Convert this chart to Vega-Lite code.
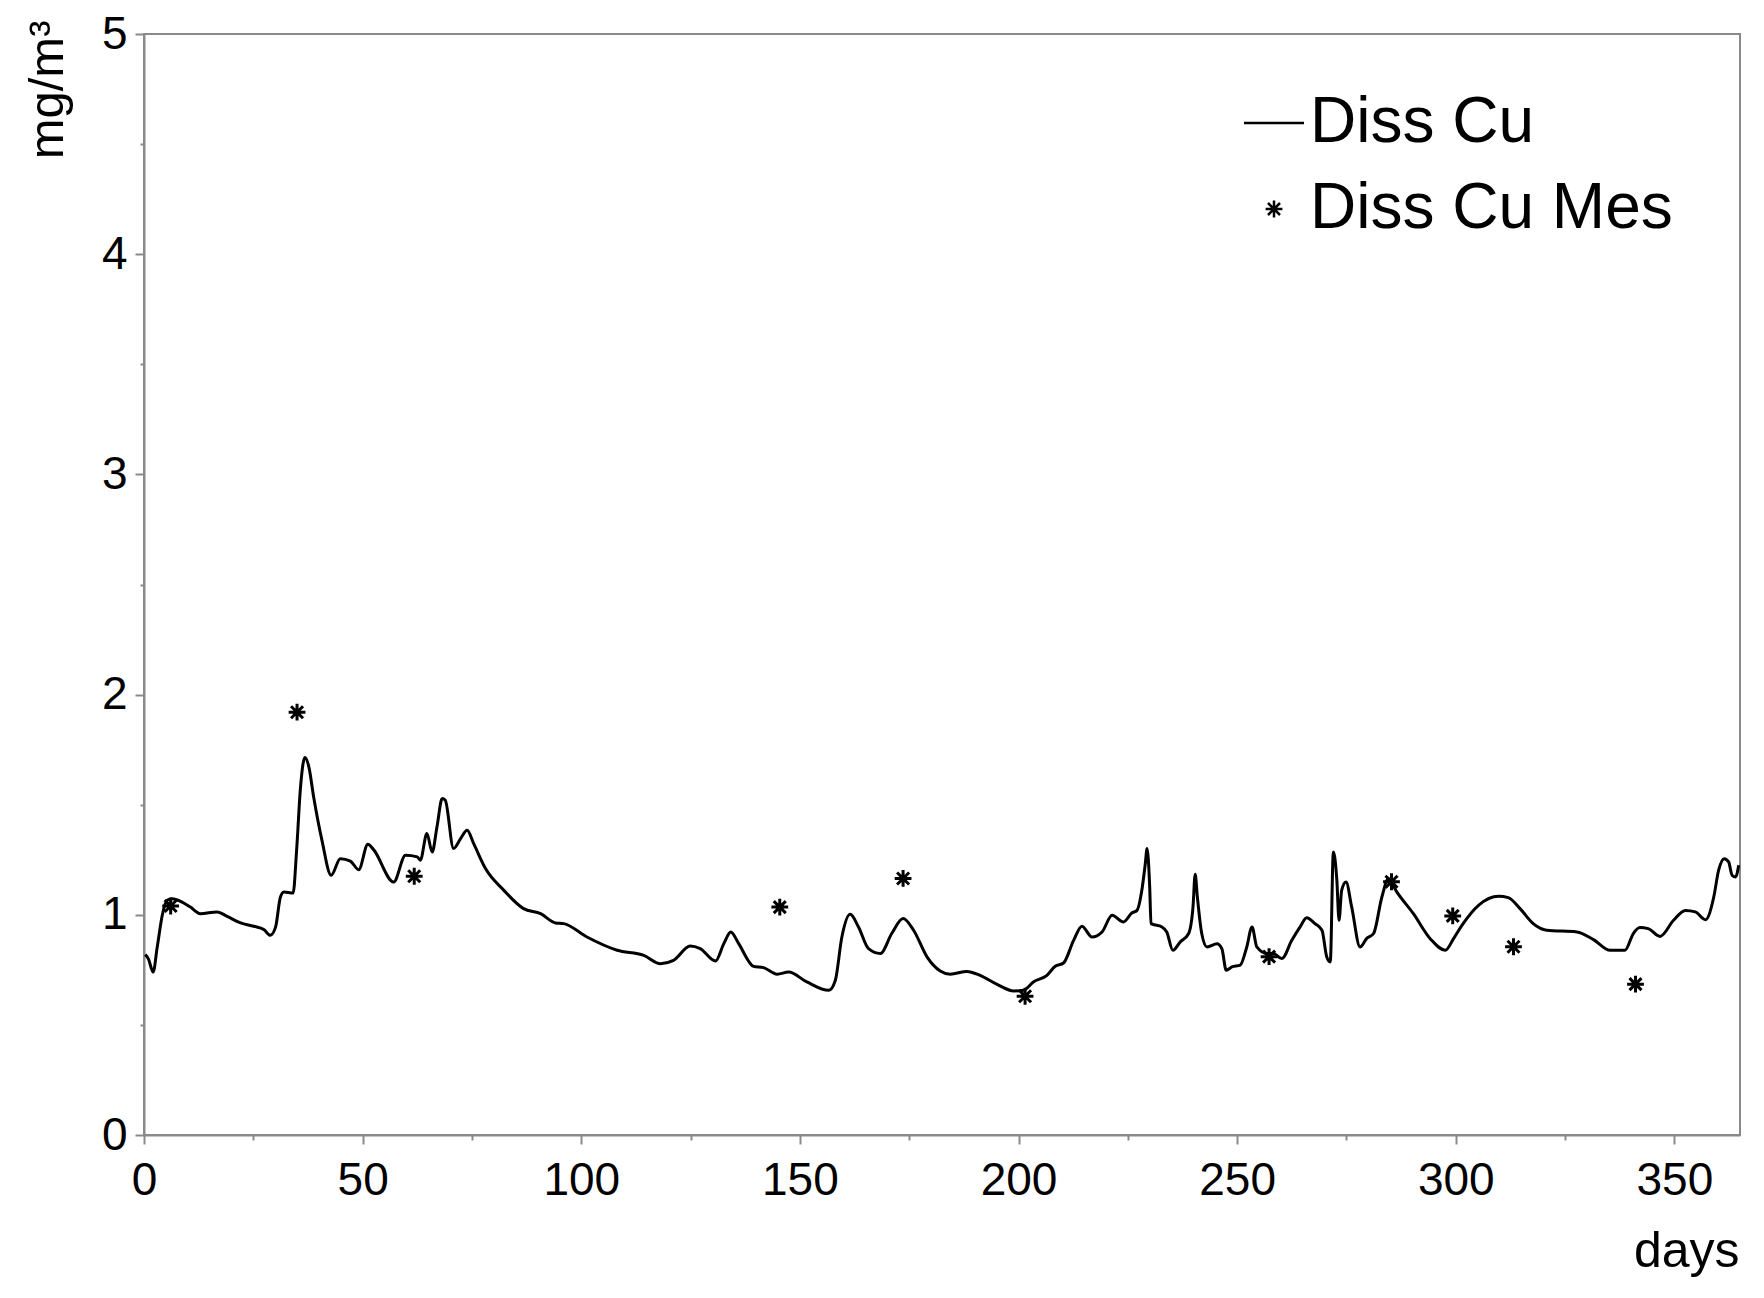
{
  "$schema": "https://vega.github.io/schema/vega-lite/v6.json",
  "width": 1596,
  "height": 1101,
  "autosize": "none",
  "padding": {"left": 144, "top": 34, "right": 24, "bottom": 163},
  "background": "white",
  "config": {
    "font": "Liberation Sans",
    "view": {"stroke": "#8a8a8a", "strokeWidth": 2}
  },
  "resolve": {"axis": {"x": "independent", "y": "independent"}},
  "layer": [
    {
      "data": {"values": [
        {"day": 0.3, "value": 0.82}, {"day": 1.0, "value": 0.8}, {"day": 2.1, "value": 0.74}, {"day": 3.0, "value": 0.85},
        {"day": 4.2, "value": 1.0}, {"day": 5.3, "value": 1.066}, {"day": 6.4, "value": 1.073}, {"day": 8.7, "value": 1.058},
        {"day": 10.6, "value": 1.035}, {"day": 12.9, "value": 1.005}, {"day": 16.7, "value": 1.013}, {"day": 19.0, "value": 0.993},
        {"day": 22.1, "value": 0.963}, {"day": 25.1, "value": 0.948}, {"day": 27.4, "value": 0.933}, {"day": 28.9, "value": 0.907},
        {"day": 30.1, "value": 0.945}, {"day": 31.2, "value": 1.081}, {"day": 32.0, "value": 1.104}, {"day": 34.1, "value": 1.099},
        {"day": 34.9, "value": 1.293}, {"day": 35.8, "value": 1.581}, {"day": 36.8, "value": 1.714}, {"day": 37.7, "value": 1.672},
        {"day": 38.8, "value": 1.535}, {"day": 40.7, "value": 1.338}, {"day": 42.8, "value": 1.18}, {"day": 44.9, "value": 1.255},
        {"day": 47.2, "value": 1.244}, {"day": 49.1, "value": 1.205}, {"day": 51.2, "value": 1.32}, {"day": 52.5, "value": 1.296},
        {"day": 57.1, "value": 1.149}, {"day": 59.8, "value": 1.27}, {"day": 62.5, "value": 1.263}, {"day": 63.2, "value": 1.248},
        {"day": 64.7, "value": 1.369}, {"day": 65.9, "value": 1.285}, {"day": 67.0, "value": 1.399}, {"day": 68.2, "value": 1.528},
        {"day": 68.9, "value": 1.52}, {"day": 70.8, "value": 1.301}, {"day": 72.4, "value": 1.346}, {"day": 73.9, "value": 1.384},
        {"day": 75.4, "value": 1.323}, {"day": 78.1, "value": 1.21}, {"day": 82.3, "value": 1.111}, {"day": 86.8, "value": 1.028},
        {"day": 90.7, "value": 1.005}, {"day": 94.1, "value": 0.963}, {"day": 96.0, "value": 0.96}, {"day": 101.3, "value": 0.899},
        {"day": 108.2, "value": 0.839}, {"day": 114.3, "value": 0.816}, {"day": 118.1, "value": 0.778}, {"day": 121.1, "value": 0.793},
        {"day": 124.9, "value": 0.858}, {"day": 127.2, "value": 0.846}, {"day": 130.7, "value": 0.79}, {"day": 132.6, "value": 0.869},
        {"day": 134.2, "value": 0.922}, {"day": 136.0, "value": 0.869}, {"day": 139.4, "value": 0.766}, {"day": 141.7, "value": 0.76},
        {"day": 144.8, "value": 0.73}, {"day": 147.4, "value": 0.74}, {"day": 151.6, "value": 0.695}, {"day": 156.6, "value": 0.657},
        {"day": 158.1, "value": 0.702}, {"day": 159.6, "value": 0.899}, {"day": 161.5, "value": 1.002}, {"day": 163.4, "value": 0.945},
        {"day": 165.7, "value": 0.846}, {"day": 168.4, "value": 0.824}, {"day": 171.0, "value": 0.915}, {"day": 173.6, "value": 0.983},
        {"day": 176.0, "value": 0.93}, {"day": 179.1, "value": 0.808}, {"day": 182.1, "value": 0.745}, {"day": 184.4, "value": 0.73},
        {"day": 188.2, "value": 0.743}, {"day": 191.2, "value": 0.725}, {"day": 195.1, "value": 0.684}, {"day": 198.9, "value": 0.654},
        {"day": 201.1, "value": 0.657}, {"day": 203.4, "value": 0.695}, {"day": 206.5, "value": 0.725}, {"day": 208.4, "value": 0.766},
        {"day": 210.3, "value": 0.781}, {"day": 212.6, "value": 0.884}, {"day": 214.5, "value": 0.948}, {"day": 216.8, "value": 0.899},
        {"day": 219.1, "value": 0.922}, {"day": 221.4, "value": 0.998}, {"day": 224.0, "value": 0.967}, {"day": 225.9, "value": 1.008},
        {"day": 227.1, "value": 1.02}, {"day": 228.2, "value": 1.111}, {"day": 229.0, "value": 1.233}, {"day": 229.4, "value": 1.301},
        {"day": 230.0, "value": 1.126}, {"day": 230.3, "value": 0.96}, {"day": 232.8, "value": 0.945}, {"day": 233.9, "value": 0.922},
        {"day": 235.3, "value": 0.839}, {"day": 237.0, "value": 0.877}, {"day": 238.9, "value": 0.915}, {"day": 239.9, "value": 1.035},
        {"day": 240.4, "value": 1.184}, {"day": 240.9, "value": 1.081}, {"day": 241.9, "value": 0.915}, {"day": 243.1, "value": 0.854},
        {"day": 245.4, "value": 0.869}, {"day": 246.5, "value": 0.846}, {"day": 247.5, "value": 0.748}, {"day": 248.8, "value": 0.763},
        {"day": 250.7, "value": 0.771}, {"day": 252.2, "value": 0.854}, {"day": 253.4, "value": 0.945}, {"day": 254.5, "value": 0.854},
        {"day": 256.8, "value": 0.824}, {"day": 258.3, "value": 0.824}, {"day": 260.2, "value": 0.801}, {"day": 262.5, "value": 0.884},
        {"day": 264.4, "value": 0.945}, {"day": 265.9, "value": 0.987}, {"day": 267.8, "value": 0.96}, {"day": 269.4, "value": 0.93},
        {"day": 270.5, "value": 0.808}, {"day": 271.3, "value": 0.786}, {"day": 272.0, "value": 1.285}, {"day": 272.8, "value": 1.157},
        {"day": 273.3, "value": 0.975}, {"day": 273.9, "value": 1.111}, {"day": 274.9, "value": 1.149}, {"day": 276.2, "value": 1.035},
        {"day": 278.1, "value": 0.854}, {"day": 279.6, "value": 0.892}, {"day": 281.2, "value": 0.915}, {"day": 283.1, "value": 1.081},
        {"day": 284.6, "value": 1.164}, {"day": 286.5, "value": 1.104}, {"day": 290.3, "value": 1.005}, {"day": 294.3, "value": 0.888},
        {"day": 297.6, "value": 0.839}, {"day": 299.5, "value": 0.892}, {"day": 301.4, "value": 0.952}, {"day": 305.2, "value": 1.043},
        {"day": 309.8, "value": 1.084}, {"day": 312.0, "value": 1.078}, {"day": 314.7, "value": 1.028}, {"day": 317.7, "value": 0.96},
        {"day": 320.8, "value": 0.93}, {"day": 327.7, "value": 0.922}, {"day": 331.5, "value": 0.887}, {"day": 335.3, "value": 0.839},
        {"day": 338.7, "value": 0.839}, {"day": 340.6, "value": 0.915}, {"day": 342.1, "value": 0.942}, {"day": 344.0, "value": 0.937},
        {"day": 346.7, "value": 0.902}, {"day": 349.8, "value": 0.975}, {"day": 352.5, "value": 1.02}, {"day": 354.8, "value": 1.013},
        {"day": 357.1, "value": 0.978}, {"day": 359.0, "value": 1.081}, {"day": 360.1, "value": 1.202}, {"day": 361.4, "value": 1.255},
        {"day": 362.4, "value": 1.24}, {"day": 363.2, "value": 1.179}, {"day": 364.0, "value": 1.172}, {"day": 364.7, "value": 1.225}
      ]},
      "mark": {"type": "line", "color": "black", "strokeWidth": 3, "strokeJoin": "round", "interpolate": "monotone"},
      "encoding": {
        "x": {"field": "day", "type": "quantitative",
          "scale": {"domain": [0, 365], "nice": false, "zero": false},
          "axis": {"orient": "bottom", "values": [0, 50, 100, 150, 200, 250, 300, 350], "grid": false,
            "labelFontSize": 46, "labelColor": "black", "labelFlush": false, "labelOverlap": false, "labelPadding": 14,
            "tickSize": 9, "tickColor": "#8a8a8a", "tickWidth": 2, "domainColor": "#8a8a8a", "domainWidth": 2,
            "title": "days", "titleFontSize": 50, "titleFontWeight": "normal", "titleColor": "black",
            "titleX": 1595, "titleY": 131, "titleAlign": "right", "titleBaseline": "alphabetic", "titleAngle": 0}},
        "y": {"field": "value", "type": "quantitative",
          "scale": {"domain": [0, 5], "nice": false},
          "axis": {"orient": "left", "values": [0, 1, 2, 3, 4, 5], "grid": false,
            "labelFontSize": 46, "labelColor": "black", "labelFlush": false, "labelOverlap": false, "labelPadding": 8,
            "tickSize": 9, "tickColor": "#8a8a8a", "tickWidth": 2, "domainColor": "#8a8a8a", "domainWidth": 2,
            "title": "mg/m³", "titleFontSize": 49, "titleFontWeight": "normal", "titleColor": "black",
            "titleAngle": 270, "titleX": -82, "titleY": -14, "titleAlign": "right", "titleBaseline": "alphabetic"}}
      }
    },
    {
      "data": {"values": [
        {"day": 6.1, "value": 1.04, "series": "Diss Cu Mes"},
        {"day": 35.0, "value": 1.92, "series": "Diss Cu Mes"},
        {"day": 61.8, "value": 1.175, "series": "Diss Cu Mes"},
        {"day": 145.4, "value": 1.035, "series": "Diss Cu Mes"},
        {"day": 173.6, "value": 1.165, "series": "Diss Cu Mes"},
        {"day": 201.5, "value": 0.63, "series": "Diss Cu Mes"},
        {"day": 257.3, "value": 0.81, "series": "Diss Cu Mes"},
        {"day": 285.3, "value": 1.15, "series": "Diss Cu Mes"},
        {"day": 299.3, "value": 0.995, "series": "Diss Cu Mes"},
        {"day": 313.2, "value": 0.855, "series": "Diss Cu Mes"},
        {"day": 341.1, "value": 0.685, "series": "Diss Cu Mes"}
      ]},
      "mark": {"type": "point", "filled": false, "stroke": "black", "strokeWidth": 3, "size": 3600, "opacity": 1},
      "encoding": {
        "x": {"field": "day", "type": "quantitative",
          "axis": {"orient": "bottom", "values": [25, 75, 125, 175, 225, 275, 325], "labels": false, "domain": false,
            "grid": false, "tickSize": 5, "tickColor": "#8a8a8a", "tickWidth": 2, "title": null}},
        "y": {"field": "value", "type": "quantitative",
          "axis": {"orient": "left", "values": [0.5, 1.5, 2.5, 3.5, 4.5], "labels": false, "domain": false,
            "grid": false, "tickSize": 4, "tickColor": "#8a8a8a", "tickWidth": 2, "title": null}},
        "shape": {"field": "series", "type": "nominal",
          "scale": {"domain": ["Diss Cu", "Diss Cu Mes"],
            "range": ["M-1,0L1,0", "M-0.28,0L0.28,0M0,-0.28L0,0.28M-0.2,-0.2L0.2,0.2M-0.2,0.2L0.2,-0.2"]},
          "legend": {"orient": "none", "legendX": 1098, "legendY": 57, "title": null, "padding": 0,
            "labelFontSize": 64, "labelColor": "black", "labelOffset": 4, "symbolSize": 3600,
            "symbolStrokeWidth": 2.5, "symbolStrokeColor": "black", "symbolFillColor": "transparent",
            "rowPadding": 22, "labelLimit": 600}}
      }
    }
  ]
}
